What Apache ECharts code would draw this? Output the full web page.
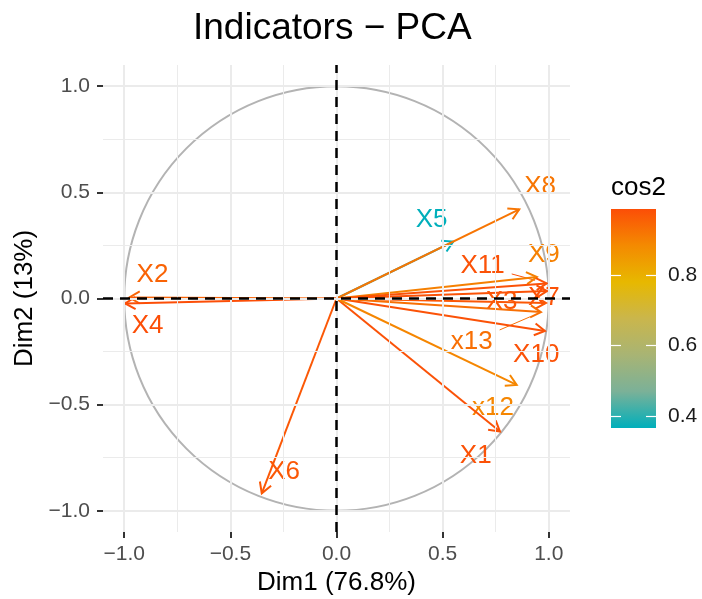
<!DOCTYPE html>
<html>
<head>
<meta charset="utf-8">
<title>Indicators - PCA</title>
<script src="https://cdn.jsdelivr.net/npm/echarts@6/dist/echarts.min.js"></script>
<style>
    html, body { margin: 0; padding: 0; background: #ffffff; }
    #chart { width: 702px; height: 599px; }
</style>
</head>
<body>
<div id="chart"></div>
<script>
/* ==========================================================
   Indicators - PCA correlation circle
   Arrows, labels and colour bar all go through ECharts scales.
   ========================================================== */

"use strict";

// variables and their coordinates on Dim1 / Dim2
const variables = ["X1", "X2", "X3", "X4", "X5", "X6", "X7", "X8", "X9", "X10", "X11", "x12", "x13"];
const dim1 = [0.770, -0.976, 0.987, -0.996, 0.550, -0.352, 0.992, 0.861, 0.944, 0.982, 0.990, 0.849, 0.963];
const dim2 = [-0.627, 0.005, -0.021, -0.023, 0.268, -0.918, 0.035, 0.420, 0.101, -0.153, 0.071, -0.407, -0.064];
const cos2 = [0.98, 0.95, 0.97, 0.987, 0.366, 0.97, 0.98, 0.92, 0.90, 0.98, 0.98, 0.89, 0.93];

// repelled label positions (data units) and which ones get a leader segment
const labelDim1 = [0.656, -0.867, 0.778, -0.890, 0.448, -0.247, 0.977, 0.959, 0.977, 0.941, 0.688, 0.737, 0.637];
const labelDim2 = [-0.743, 0.111, -0.018, -0.129, 0.370, -0.816, 0.002, 0.527, 0.205, -0.265, 0.153, -0.515, -0.205];
const leaderLines = ["X11", "x13"];

// tick values
const majorTicks = [-1, -0.5, 0, 0.5, 1];
const minorTicks = [-0.75, -0.25, 0.25, 0.75];
const legendTicks = [0.4, 0.6, 0.8];

const Theme = {
    font: "'Liberation Sans', Arial, Helvetica, sans-serif",
    grid: "#EBEBEB",
    circle: "#B3B3B3",
    tick: "#333333",
    tickText: "#4D4D4D",
    // cyan -> yellow -> red, stepped through Lab like ggplot does
    gradient: ["#00AFBB", "#7BB198", "#A8B474", "#CAB64C", "#E7B800", "#F48A01", "#FC4E07"]
};

const cosMin = Math.min(...cos2);
const cosMax = Math.max(...cos2);
const LABEL_FONT = "26px " + Theme.font;

const measureCtx = document.createElement("canvas").getContext("2d");
function textWidth(str, font){
    measureCtx.font = font;
    return measureCtx.measureText(str).width;
}

function minusFmt(v){
    return (v < 0 ? "\u2212" : "") + Math.abs(v).toFixed(1);
}

/* ==========================================================
   RENDERERS
   ========================================================== */

function renderCircle(params, api){
    const c = api.coord([api.value(0), api.value(1)]);
    const r = api.size([api.value(2), 0])[0];
    return {
        type: "circle",
        shape: { cx: c[0], cy: c[1], r: r },
        style: { stroke: Theme.circle, lineWidth: 2, fill: null }
    };
}

function renderArrow(params, api){
    const p0 = api.coord([0, 0]);
    const p1 = api.coord([api.value(0), api.value(1)]);
    const color = api.visual("color");
    const ang = Math.atan2(p1[1] - p0[1], p1[0] - p0[0]);
    const L = 12, A = Math.PI / 6;
    const h1 = [p1[0] - L * Math.cos(ang - A), p1[1] - L * Math.sin(ang - A)];
    const h2 = [p1[0] - L * Math.cos(ang + A), p1[1] - L * Math.sin(ang + A)];
    return {
        type: "group",
        children: [
            { type: "line", shape: { x1: p0[0], y1: p0[1], x2: p1[0], y2: p1[1] }, style: { stroke: color, lineWidth: 2 } },
            { type: "polyline", shape: { points: [h1, p1, h2] }, style: { stroke: color, lineWidth: 2, fill: null } }
        ]
    };
}

function renderLabel(params, api){
    const i = params.dataIndex;
    const name = variables[i];
    const p = api.coord([api.value(0), api.value(1)]);
    const color = api.visual("color");
    const children = [{
        type: "text",
        x: p[0], y: p[1],
        style: { text: name, fill: color, font: LABEL_FONT, align: "center", verticalAlign: "middle" }
    }];
    if(leaderLines.indexOf(name) >= 0){
        const tip = api.coord([dim1[i], dim2[i]]);
        const dx = tip[0] - p[0], dy = tip[1] - p[1];
        const len = Math.sqrt(dx * dx + dy * dy);
        const hw = textWidth(name, LABEL_FONT) / 2 + 7, hh = 10 + 7;
        const t = Math.min(hw / Math.abs(dx || 1e-6), hh / Math.abs(dy || 1e-6));
        const s = [p[0] + dx * t, p[1] + dy * t];
        const e = [tip[0] - dx / len * 12, tip[1] - dy / len * 12];
        children.push({
            type: "line",
            shape: { x1: s[0], y1: s[1], x2: e[0], y2: e[1] },
            style: { stroke: color, lineWidth: 1 }
        });
    }
    return { type: "group", children: children };
}

function renderColorBar(params, api){
    const a = api.coord([api.value(0), api.value(3)]);
    const b = api.coord([api.value(2), api.value(1)]);
    const stops = Theme.gradient.map((c, k) => ({ offset: 1 - k / (Theme.gradient.length - 1), color: c }));
    return {
        type: "rect",
        shape: { x: a[0], y: a[1], width: b[0] - a[0], height: b[1] - a[1] },
        style: { fill: new echarts.graphic.LinearGradient(0, 0, 0, 1, stops) }
    };
}

/* ==========================================================
   OPTION
   ========================================================== */

function gridLineData(){
    const out = [];
    majorTicks.forEach(v => {
        out.push({ xAxis: v, lineStyle: { color: Theme.grid, width: 2, type: "solid" } });
        out.push({ yAxis: v, lineStyle: { color: Theme.grid, width: 2, type: "solid" } });
    });
    minorTicks.forEach(v => {
        out.push({ xAxis: v, lineStyle: { color: Theme.grid, width: 1, type: "solid" } });
        out.push({ yAxis: v, lineStyle: { color: Theme.grid, width: 1, type: "solid" } });
    });
    return out;
}

function mainAxis(name, extra){
    return Object.assign({
        type: "value",
        gridIndex: 0,
        min: -1.1,
        max: 1.1,
        name: name,
        nameLocation: "middle",
        nameTextStyle: { fontSize: 26, color: "#000", fontFamily: Theme.font },
        axisLine: { show: false, onZero: false },
        axisTick: { show: true, length: 6, lineStyle: { color: Theme.tick, width: 2 }, customValues: majorTicks },
        axisLabel: { customValues: majorTicks, formatter: minusFmt, fontSize: 21, color: Theme.tickText, fontFamily: Theme.font },
        splitLine: { show: false }
    }, extra);
}

function legendAxis(position, extra){
    return Object.assign({
        type: "value",
        gridIndex: 1,
        position: position,
        min: cosMin,
        max: cosMax,
        z: 10,
        axisLine: { show: false, onZero: false },
        axisTick: { show: true, inside: true, length: 10, lineStyle: { color: "#ffffff", width: 1.2 }, customValues: legendTicks },
        splitLine: { show: false }
    }, extra);
}

const option = {
    animation: false,
    backgroundColor: "#ffffff",
    textStyle: { fontFamily: Theme.font },
    title: {
        text: "Indicators \u2212 PCA",
        left: 193,
        top: 10,
        padding: 0,
        textStyle: { fontSize: 37, fontWeight: "normal", color: "#000", fontFamily: Theme.font }
    },
    grid: [
        { left: 103, top: 65, width: 467, height: 467, outerBoundsMode: "none" },
        { left: 611, top: 209, width: 45, height: 219, outerBoundsMode: "none" }
    ],
    xAxis: [
        mainAxis("Dim1 (76.8%)", { nameGap: 38, axisLabel: { customValues: majorTicks, formatter: minusFmt, fontSize: 21, color: Theme.tickText, fontFamily: Theme.font, margin: 12 } }),
        { type: "value", gridIndex: 1, min: 0, max: 1, show: false }
    ],
    yAxis: [
        mainAxis("Dim2 (13%)", { nameGap: 65, nameRotate: 90, axisLabel: { customValues: majorTicks, formatter: minusFmt, fontSize: 21, color: Theme.tickText, fontFamily: Theme.font, margin: 13 } }),
        legendAxis("left", {
            name: "cos2",
            nameLocation: "end",
            nameGap: 8,
            nameTextStyle: { align: "left", fontSize: 26, color: "#000", fontFamily: Theme.font },
            axisLabel: { show: false }
        }),
        legendAxis("right", {
            axisLabel: { show: true, inside: false, customValues: legendTicks, margin: 12, fontSize: 21, color: "#1A1A1A", fontFamily: Theme.font, formatter: v => v.toFixed(1) }
        })
    ],
    visualMap: {
        type: "continuous",
        show: false,
        min: cosMin,
        max: cosMax,
        dimension: 2,
        seriesIndex: [3, 4],
        inRange: { color: Theme.gradient }
    },
    series: [
        {
            // panel grid
            type: "line",
            xAxisIndex: 0, yAxisIndex: 0,
            data: [],
            z: 1,
            silent: true,
            markLine: { silent: true, symbol: "none", label: { show: false }, animation: false, data: gridLineData() }
        },
        {
            type: "custom",
            xAxisIndex: 0, yAxisIndex: 0,
            z: 2,
            silent: true,
            renderItem: renderCircle,
            data: [[0, 0, 1]]
        },
        {
            type: "custom",
            xAxisIndex: 1, yAxisIndex: 1,
            z: 2,
            silent: true,
            renderItem: renderColorBar,
            data: [[0, cosMin, 1, cosMax]]
        },
        {
            type: "custom",
            xAxisIndex: 0, yAxisIndex: 0,
            z: 3,
            silent: true,
            renderItem: renderLabel,
            data: variables.map((v, i) => [labelDim1[i], labelDim2[i], cos2[i]])
        },
        {
            type: "custom",
            xAxisIndex: 0, yAxisIndex: 0,
            z: 4,
            silent: true,
            renderItem: renderArrow,
            data: variables.map((v, i) => [dim1[i], dim2[i], cos2[i]])
        },
        {
            // dashed reference lines through the origin
            type: "line",
            xAxisIndex: 0, yAxisIndex: 0,
            data: [],
            z: 5,
            silent: true,
            markLine: {
                silent: true,
                symbol: "none",
                label: { show: false },
                animation: false,
                lineStyle: { color: "#000", width: 2.5, type: [10, 7] },
                data: [{ xAxis: 0 }, { yAxis: 0 }]
            }
        }
    ]
};

const chart = echarts.init(document.getElementById("chart"));
chart.setOption(option);
window.addEventListener("resize", () => chart.resize());
</script>
</body>
</html>
